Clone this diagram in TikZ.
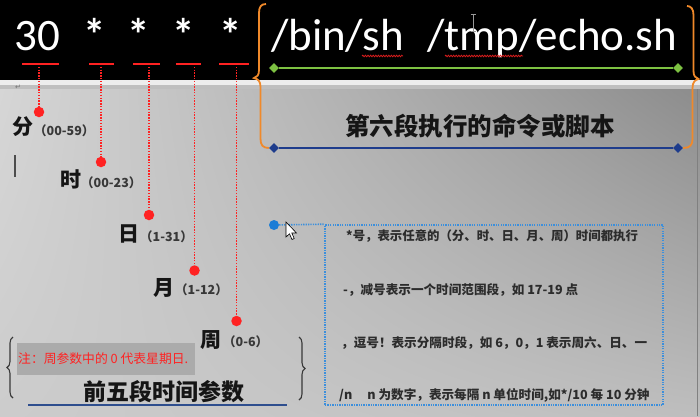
\documentclass[tikz,border=0pt]{standalone}
\usepackage{fontspec}
\setmainfont{Carlito}
\newfontfamily\cjk{Noto Sans CJK SC}
\newfontfamily\carl{Carlito}
\newfontfamily\djv{DejaVu Sans}
\usetikzlibrary{decorations.pathreplacing,decorations.pathmorphing,shapes.geometric,shadings}
\definecolor{redmark}{HTML}{FF2222}
\definecolor{orangeb}{HTML}{F0892A}
\definecolor{greenl}{HTML}{7DC142}
\definecolor{navyl}{HTML}{1E3C8C}
\definecolor{bluedot}{HTML}{1C7DD6}
\definecolor{bluebox}{HTML}{3C8FDC}
\definecolor{inkd}{HTML}{151515}
\definecolor{ulblue}{HTML}{2E4E8E}
\definecolor{notegray}{HTML}{ABABAB}
\definecolor{bgul}{HTML}{D6D6D6}
\definecolor{bgur}{HTML}{8C8C8C}
\definecolor{bgll}{HTML}{CCCCCC}
\definecolor{bglr}{HTML}{BEBEBE}
\begin{document}
\begin{tikzpicture}[x=1pt,y=-1pt,
  cmdtext/.style={font=\carl\fontsize{45}{45}\selectfont, text=white, inner sep=0pt, anchor=base},
  startext/.style={font=\carl\bfseries\fontsize{45}{45}\selectfont, text=white, inner sep=0pt, anchor=base},
  cmdwest/.style={cmdtext, anchor=base west},
  cmdeast/.style={cmdtext, anchor=base east},
  redline/.style={draw=redmark, line width=2pt},
  redvert/.style={draw=redmark, line width=1.4pt, dash pattern=on 1.4pt off 1.4pt},
  reddotnode/.style={circle, fill=redmark, inner sep=0pt, minimum size=10.5pt},
  bigcn/.style={font=\cjk\bfseries\fontsize{21}{21}\selectfont, text=inkd, inner sep=0pt},
  smallcn/.style={font=\cjk\bfseries\fontsize{12.5}{12.5}\selectfont, text=inkd!85, inner sep=0pt, anchor=west},
  headcn/.style={font=\cjk\bfseries\fontsize{24.5}{25}\selectfont, text=inkd, inner sep=0pt},
  boxcn/.style={font=\cjk\bfseries\fontsize{12.6}{13}\selectfont, text=inkd!90, inner sep=0pt, anchor=west},
  diamondnode/.style={diamond, inner sep=0pt, minimum size=10pt},
  orangeline/.style={draw=orangeb, line width=1.8pt},
  bluedotline/.style={draw=bluebox, line width=1.6pt, dash pattern=on 1.3pt off 1.1pt},
  bracestyle/.style={draw=inkd!85, line width=1.1pt, decorate, decoration={brace, amplitude=6pt}},
  squiggle/.style={draw=redmark!85!black, line width=0.8pt, decorate, decoration={snake, amplitude=0.8pt, segment length=2.6pt}}
]
\useasboundingbox (0,0) rectangle (700,416);
% background
\shade[upper left=bgul, upper right=bgur, lower left=bgll, lower right=bglr] (0,88) rectangle (700,416);
\fill[black] (0,0) rectangle (700,80);
\fill[white!93!black] (0,80) rectangle (700,85);
\fill[white!75!black] (0,85) rectangle (700,89);
\draw[white!50!black, line width=1.2pt] (697.5,89) -- (697.5,416);
\node[font=\djv\fontsize{7}{7}\selectfont, text=black!55, inner sep=0pt] (ret) at (18,87.5) {↵};

% command line
\node[cmdtext] (n30) at (37,50) {30};
\node[startext] (s1) at (95,50) {*};
\node[startext] (s2) at (139,50) {*};
\node[startext] (s3) at (184,50) {*};
\node[startext] (s4) at (231,50) {*};
\node[cmdeast] (binsh) at (404,50) {/bin/sh};
\node[cmdwest] (echo) at (427,50) {/tmp/echo.sh};
\draw[squiggle] (362,56) -- (403,56);
\draw[squiggle] (445,56) -- (523,56);
\draw[white!60!black, line width=0.8pt] (473,15) -- (473,31) (470.5,14.5) -- (475.5,14.5) (470.5,31.5) -- (475.5,31.5);

% red underlines
\draw[redline] (22,64) -- (59,64);
\draw[redline] (89,64) -- (114,64);
\draw[redline] (133,64) -- (160,64);
\draw[redline] (176,64) -- (201,64);
\draw[redline] (219,64) -- (249,64);
\coordinate (u1) at (39,64);
\coordinate (u2) at (101,64);
\coordinate (u3) at (149,64);
\coordinate (u4) at (194.5,64);
\coordinate (u5) at (236.5,64);
\node[reddotnode] (d1) at (39,112) {};
\node[reddotnode] (d2) at (101,162) {};
\node[reddotnode] (d3) at (149,215) {};
\node[reddotnode] (d4) at (194.5,270.5) {};
\node[reddotnode] (d5) at (236.5,321) {};
\draw[redvert] (u1) -- (d1);
\draw[redvert] (u2) -- (d2);
\draw[redvert] (u3) -- (d3);
\draw[redvert] (u4) -- (d4);
\draw[redvert] (u5) -- (d5);

% field labels
\node[bigcn] (fen) at (23,127) {分};
\node[smallcn] (fenr) at (34,131) {（00-59）};
\node[bigcn] (shi) at (71,179) {时};
\node[smallcn] (shir) at (81,183) {（00-23）};
\node[bigcn] (ri) at (129,234) {日};
\node[smallcn] (rir) at (140,237) {（1-31）};
\node[bigcn] (yue) at (164,288) {月};
\node[smallcn] (yuer) at (175,290) {（1-12）};
\node[bigcn] (zhou) at (211,340) {周};
\node[smallcn] (zhour) at (223,342) {（0-6）};
\draw[black!70, line width=1.8pt] (15,155) -- (15,177);

% note
\fill[notegray] (17,343) rectangle (195,375);
\node[font=\cjk\fontsize{12.8}{13}\selectfont, text=redmark, inner sep=0pt, anchor=west] (note) at (18,359) {注：周参数中的 0 代表星期日.};
\draw[bracestyle] (13,398) -- (13,337);
\draw[bracestyle] (299,337) -- (299,400);
\node[headcn, font=\cjk\bfseries\fontsize{23}{23}\selectfont] (five) at (164,392) {前五段时间参数};
\draw[ulblue, line width=2pt] (28,405) -- (287,405);

% sixth field
\node[diamondnode, fill=greenl] (gl) at (274,68) {};
\node[diamondnode, fill=greenl] (gr) at (678,68) {};
\draw[greenl, line width=2pt] (gl) -- (gr);
\node[diamondnode, fill=navyl] (bl) at (274,148) {};
\node[diamondnode, fill=navyl] (br) at (678,148) {};
\draw[navyl, line width=1.8pt] (bl) -- (br);
\draw[orangeline] (266,4) .. controls (261,4) and (259,7) .. (259,13) -- (259,70)
   .. controls (259,75) and (257,77.5) .. (254,78) .. controls (258,79) and (260.5,81) .. (260.5,87)
   -- (260.5,139) .. controls (260.5,145) and (263,148) .. (bl.west);
\draw[orangeline] (687,6) .. controls (691,6) and (693.5,9) .. (693.5,15) -- (693.5,71)
   .. controls (693.5,76) and (695.5,78) .. (698.5,79) .. controls (695,80) and (692.5,82) .. (692.5,88)
   -- (692.5,139) .. controls (692.5,145) and (690,148) .. (br.east);
\node[headcn] (sixth) at (480,126) {第六段执行的命令或脚本};

% symbol box
\node[circle, fill=bluedot, inner sep=0pt, minimum size=10pt] (bd) at (274,225) {};
\node[draw=bluebox, line width=1.6pt, dash pattern=on 1.3pt off 1.1pt, minimum width=338pt, minimum height=180pt, inner sep=0pt] (symbox) at (494,315) {};
\draw[bluedotline] (bd) -- (symbox.north west);
\node[boxcn, font=\cjk\bfseries\fontsize{12.4}{12.4}\selectfont] (l1) at (346,236) {*号，表示任意的（分、时、日、月、周）时间都执行};
\node[boxcn] (l2) at (343,290) {-，减号表示一个时间范围段，如 17-19 点};
\node[boxcn] (l3) at (341,343) {，逗号！表示分隔时段，如 6，0，1 表示周六、日、一};
\node[boxcn] (l4) at (339,395) {/n\hspace{1.2em}n 为数字，表示每隔 n 单位时间,如*/10 每 10 分钟};

% mouse pointer
\filldraw[fill=white, draw=black, line width=0.6pt] (286,222) -- (286,237) -- (289.5,233.8) -- (292,239.5)
   -- (294.2,238.5) -- (291.8,233) -- (296.5,233) -- cycle;
\end{tikzpicture}
\end{document}
